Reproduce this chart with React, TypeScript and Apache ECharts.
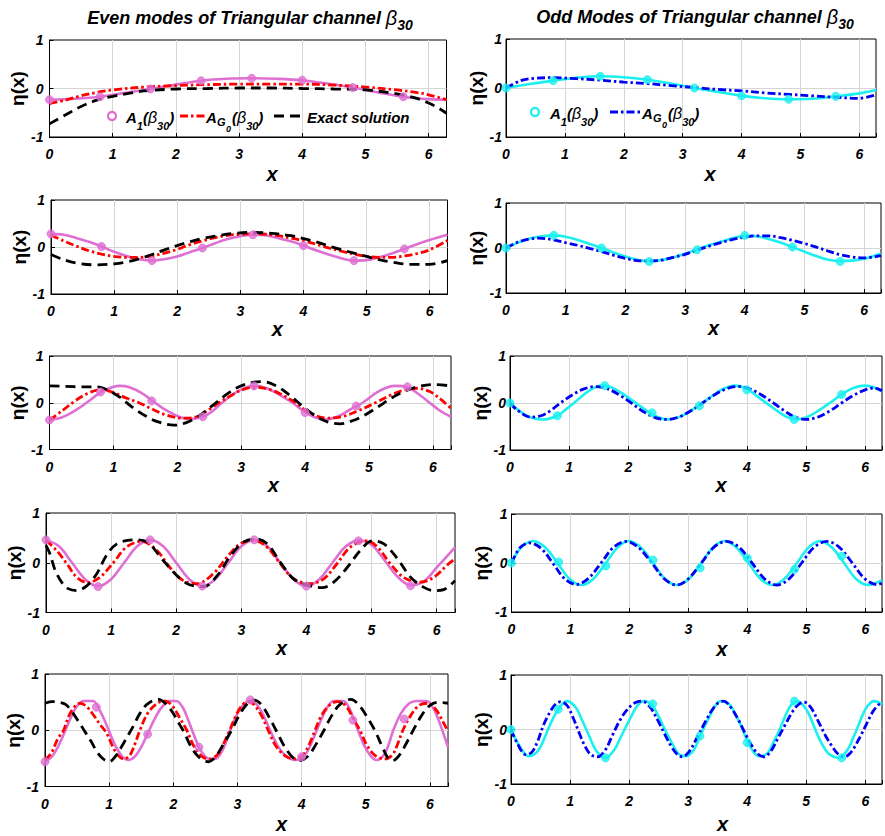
import React, { useEffect, useRef } from "react";
import * as echarts from "echarts";

// ---------- Row 1 ----------
const e1A1 = [[0,-0.23],[0.4,-0.21],[0.8,-0.17],[1.2,-0.09],[1.6,-0.01],[2.0,0.08],[2.4,0.16],[2.8,0.2],[3.2,0.21],[3.6,0.2],[4.0,0.17],[4.4,0.1],[4.8,0.02],[5.2,-0.08],[5.6,-0.17],[6.0,-0.22],[6.283,-0.23]];
const e1AG0 = [[0,-0.31],[0.25,-0.24],[0.5,-0.15],[0.75,-0.08],[1.0,-0.03],[1.5,0.03],[2.0,0.06],[2.5,0.08],[3.0,0.09],[3.5,0.09],[4.0,0.09],[4.5,0.07],[5.0,0.03],[5.5,-0.03],[5.8,-0.08],[6.0,-0.13],[6.283,-0.23]];
const e1Ex = [[0,-0.73],[0.3,-0.51],[0.5,-0.37],[0.75,-0.24],[1.0,-0.16],[1.25,-0.1],[1.5,-0.05],[2.0,-0.01],[2.5,0],[3.0,0.01],[3.5,0.01],[4.0,0],[4.5,-0.01],[5.0,-0.03],[5.5,-0.11],[5.8,-0.2],[6.0,-0.3],[6.15,-0.4],[6.283,-0.51]];
const e1Mk = [[0,-0.23],[0.8,-0.17],[1.6,-0.01],[2.4,0.16],[3.2,0.21],[4.0,0.17],[4.8,0.02],[5.6,-0.17]];
const o1A1 = [[0,0],[0.4,0.08],[0.8,0.15],[1.2,0.21],[1.6,0.24],[2.0,0.22],[2.4,0.17],[2.8,0.09],[3.2,0.0],[3.6,-0.08],[4.0,-0.16],[4.4,-0.21],[4.8,-0.23],[5.2,-0.22],[5.6,-0.17],[6.0,-0.11],[6.283,-0.04]];
const o1AG0 = [[0,0],[0.25,0.15],[0.5,0.2],[0.8,0.21],[1.2,0.19],[1.6,0.16],[2.0,0.12],[2.4,0.09],[2.8,0.05],[3.2,0.01],[3.6,-0.03],[4.0,-0.06],[4.4,-0.1],[4.8,-0.13],[5.2,-0.16],[5.6,-0.19],[6.0,-0.21],[6.283,-0.14]];
const o1Mk = [[0,0],[0.8,0.15],[1.6,0.24],[2.4,0.17],[3.2,0.0],[4.0,-0.16],[4.8,-0.23],[5.6,-0.17]];

// ---------- Row 2 ----------
const e2A1 = [[0,0.28],[0.2,0.26],[0.4,0.19],[0.6,0.11],[0.8,0.01],[1.0,-0.1],[1.2,-0.19],[1.4,-0.26],[1.6,-0.29],[1.8,-0.26],[2.0,-0.2],[2.2,-0.11],[2.4,-0.02],[2.6,0.08],[2.8,0.17],[3.0,0.23],[3.2,0.26],[3.4,0.25],[3.6,0.19],[3.8,0.12],[4.0,0.03],[4.2,-0.07],[4.4,-0.16],[4.6,-0.24],[4.8,-0.29],[5.0,-0.28],[5.2,-0.22],[5.4,-0.14],[5.6,-0.04],[5.8,0.06],[6.0,0.15],[6.283,0.26]];
const e2AG0 = [[0,0.25],[0.2,0.13],[0.4,0.02],[0.6,-0.08],[0.8,-0.15],[1.0,-0.2],[1.2,-0.22],[1.4,-0.22],[1.6,-0.19],[1.8,-0.13],[2.0,-0.05],[2.2,0.05],[2.4,0.13],[2.6,0.2],[2.8,0.25],[3.0,0.27],[3.3,0.28],[3.6,0.24],[3.8,0.19],[4.0,0.13],[4.2,0.06],[4.4,-0.02],[4.6,-0.09],[4.8,-0.15],[5.0,-0.2],[5.2,-0.22],[5.4,-0.22],[5.6,-0.19],[5.8,-0.14],[6.0,-0.06],[6.283,0.14]];
const e2Ex = [[0,-0.16],[0.2,-0.27],[0.4,-0.34],[0.7,-0.38],[1.0,-0.36],[1.2,-0.32],[1.4,-0.25],[1.6,-0.16],[1.8,-0.06],[2.0,0.03],[2.2,0.11],[2.4,0.18],[2.6,0.23],[2.9,0.29],[3.2,0.31],[3.5,0.29],[3.8,0.24],[4.0,0.18],[4.2,0.11],[4.5,-0.02],[4.8,-0.13],[5.0,-0.2],[5.2,-0.27],[5.4,-0.32],[5.7,-0.37],[6.0,-0.37],[6.283,-0.29]];
const e2Mk = [[0,0.28],[0.8,0.01],[1.6,-0.29],[2.4,-0.02],[3.2,0.26],[4.0,0.03],[4.8,-0.29],[5.6,-0.04]];
const o2A1 = [[0,0],[0.2,0.12],[0.4,0.21],[0.6,0.26],[0.8,0.28],[1.0,0.25],[1.2,0.18],[1.4,0.09],[1.6,0],[1.8,-0.1],[2.0,-0.19],[2.2,-0.26],[2.4,-0.29],[2.6,-0.27],[2.8,-0.21],[3.0,-0.13],[3.2,-0.03],[3.4,0.06],[3.6,0.14],[3.8,0.22],[4.0,0.27],[4.2,0.26],[4.4,0.2],[4.6,0.12],[4.8,0.02],[5.0,-0.08],[5.2,-0.18],[5.4,-0.26],[5.6,-0.29],[5.8,-0.28],[6.0,-0.24],[6.283,-0.13]];
const o2AG0 = [[0,0],[0.2,0.13],[0.4,0.2],[0.55,0.22],[0.8,0.18],[1.0,0.12],[1.2,0.06],[1.4,-0.01],[1.6,-0.08],[1.8,-0.16],[2.0,-0.23],[2.2,-0.28],[2.4,-0.29],[2.6,-0.27],[2.8,-0.21],[3.0,-0.14],[3.2,-0.05],[3.4,0.04],[3.6,0.12],[3.8,0.19],[4.0,0.24],[4.2,0.27],[4.4,0.27],[4.6,0.23],[4.8,0.17],[5.0,0.1],[5.2,0.02],[5.4,-0.07],[5.6,-0.15],[5.8,-0.2],[6.0,-0.22],[6.283,-0.17]];
const o2Mk = [[0,0],[0.8,0.28],[1.6,0],[2.4,-0.3],[3.2,-0.04],[4.0,0.28],[4.8,0.02],[5.6,-0.3]];

// ---------- Row 3 ----------
const e3A1 = [[0,-0.37],[0.2,-0.31],[0.4,-0.17],[0.6,0.02],[0.8,0.22],[1.0,0.34],[1.1,0.36],[1.25,0.33],[1.45,0.2],[1.65,0.0],[1.85,-0.18],[2.05,-0.31],[2.2,-0.35],[2.4,-0.3],[2.55,-0.18],[2.7,0.0],[2.85,0.16],[3.0,0.28],[3.2,0.36],[3.4,0.31],[3.6,0.17],[3.8,0.0],[4.0,-0.2],[4.15,-0.31],[4.3,-0.36],[4.5,-0.3],[4.7,-0.15],[4.9,0.0],[5.1,0.2],[5.25,0.31],[5.4,0.36],[5.6,0.33],[5.8,0.16],[5.95,0.0],[6.1,-0.16],[6.283,-0.3]];
const e3AG0 = [[0,-0.37],[0.2,-0.17],[0.4,0.04],[0.6,0.2],[0.8,0.28],[1.0,0.22],[1.2,0.1],[1.4,0],[1.6,-0.13],[1.8,-0.25],[2.1,-0.33],[2.3,-0.3],[2.5,-0.14],[2.65,0],[2.85,0.16],[3.0,0.27],[3.2,0.33],[3.4,0.3],[3.6,0.2],[3.85,0],[4.05,-0.2],[4.35,-0.33],[4.6,-0.29],[4.85,-0.16],[5.1,0],[5.35,0.17],[5.55,0.27],[5.75,0.31],[5.95,0.24],[6.1,0.1],[6.283,-0.12]];
const e3Ex = [[0,0.36],[0.25,0.35],[0.5,0.34],[0.75,0.34],[0.9,0.28],[1.1,0.12],[1.3,-0.1],[1.5,-0.28],[1.7,-0.41],[1.95,-0.48],[2.15,-0.42],[2.35,-0.27],[2.55,-0.06],[2.75,0.16],[2.95,0.33],[3.2,0.44],[3.35,0.45],[3.55,0.36],[3.75,0.17],[3.95,-0.06],[4.15,-0.27],[4.35,-0.41],[4.55,-0.45],[4.75,-0.38],[4.95,-0.25],[5.15,-0.08],[5.35,0.1],[5.55,0.24],[5.75,0.34],[6.0,0.39],[6.283,0.36]];
const e3Mk = [[0,-0.37],[0.8,0.23],[1.6,0.04],[2.4,-0.3],[3.2,0.36],[4.0,-0.21],[4.8,-0.07],[5.6,0.34]];
const o3A1 = [[0,0],[0.15,-0.16],[0.3,-0.28],[0.55,-0.35],[0.8,-0.27],[0.95,-0.13],[1.1,0.02],[1.25,0.18],[1.4,0.31],[1.55,0.37],[1.7,0.34],[1.9,0.2],[2.15,-0.02],[2.35,-0.2],[2.5,-0.3],[2.65,-0.35],[2.85,-0.3],[3.05,-0.17],[3.25,0.0],[3.45,0.18],[3.6,0.3],[3.8,0.37],[4.0,0.3],[4.2,0.12],[4.35,-0.02],[4.55,-0.2],[4.7,-0.31],[4.85,-0.35],[5.05,-0.28],[5.25,-0.13],[5.4,0.0],[5.6,0.18],[5.8,0.32],[6.0,0.37],[6.15,0.33],[6.283,0.25]];
const o3AG0 = [[0,0],[0.12,-0.15],[0.35,-0.3],[0.55,-0.26],[0.7,-0.15],[0.85,0.0],[1.05,0.17],[1.25,0.3],[1.45,0.35],[1.65,0.3],[1.85,0.17],[2.05,0.0],[2.25,-0.18],[2.45,-0.31],[2.65,-0.35],[2.85,-0.3],[3.05,-0.17],[3.25,0.0],[3.45,0.17],[3.65,0.3],[3.85,0.35],[4.05,0.3],[4.25,0.17],[4.45,0.0],[4.65,-0.18],[4.8,-0.29],[5.0,-0.35],[5.2,-0.3],[5.4,-0.17],[5.6,0.0],[5.8,0.16],[6.0,0.28],[6.15,0.32],[6.283,0.26]];
const o3Mk = [[0,0],[0.8,-0.27],[1.6,0.37],[2.4,-0.21],[3.2,-0.06],[4.0,0.28],[4.8,-0.35],[5.6,0.18]];

// ---------- Row 4 ----------
const e4A1 = [[0,0.46],[0.2,0.33],[0.4,0.0],[0.6,-0.33],[0.8,-0.47],[1.0,-0.33],[1.2,0.0],[1.4,0.33],[1.6,0.46],[1.8,0.33],[2.0,0.0],[2.2,-0.33],[2.4,-0.47],[2.6,-0.33],[2.8,0.0],[3.0,0.33],[3.2,0.46],[3.4,0.33],[3.6,0.0],[3.8,-0.33],[4.0,-0.47],[4.2,-0.33],[4.4,0.0],[4.6,0.32],[4.8,0.45],[5.0,0.36],[5.2,0.05],[5.4,-0.28],[5.6,-0.45],[5.8,-0.38],[6.0,-0.1],[6.283,0.31]];
const e4AG0 = [[0,0.45],[0.16,0.25],[0.32,-0.02],[0.47,-0.29],[0.64,-0.4],[0.83,-0.29],[1.04,0.01],[1.24,0.32],[1.47,0.43],[1.7,0.25],[1.9,-0.09],[2.11,-0.36],[2.32,-0.42],[2.57,-0.22],[2.78,0.11],[2.98,0.38],[3.19,0.45],[3.39,0.32],[3.6,-0.02],[3.8,-0.32],[4.06,-0.42],[4.27,-0.32],[4.47,-0.02],[4.68,0.32],[4.93,0.44],[5.09,0.32],[5.29,-0.02],[5.5,-0.3],[5.75,-0.39],[5.96,-0.29],[6.16,-0.05],[6.283,0.08]];
const e4Ex = [[0,0.35],[0.06,0.18],[0.14,-0.15],[0.24,-0.39],[0.34,-0.52],[0.47,-0.56],[0.63,-0.46],[0.78,-0.22],[0.93,0.15],[1.09,0.38],[1.34,0.46],[1.55,0.42],[1.76,0.11],[1.96,-0.19],[2.17,-0.42],[2.42,-0.48],[2.63,-0.26],[2.84,0.15],[3.04,0.42],[3.22,0.48],[3.4,0.38],[3.6,0.01],[3.8,-0.32],[4.01,-0.45],[4.24,-0.5],[4.42,-0.39],[4.63,-0.09],[4.83,0.25],[5.01,0.44],[5.19,0.38],[5.4,0.08],[5.6,-0.29],[5.8,-0.49],[5.96,-0.56],[6.11,-0.54],[6.283,-0.36]];
const e4Mk = [[0,0.46],[0.8,-0.48],[1.6,0.46],[2.4,-0.47],[3.2,0.46],[4.0,-0.47],[4.8,0.44],[5.6,-0.46]];
const o4A1 = [[0,0],[0.1,0.22],[0.2,0.36],[0.37,0.45],[0.57,0.32],[0.78,0],[0.98,-0.32],[1.19,-0.45],[1.39,-0.32],[1.6,0],[1.8,0.32],[1.99,0.45],[2.19,0.32],[2.4,0],[2.6,-0.32],[2.81,-0.45],[3.01,-0.32],[3.22,0],[3.42,0.32],[3.61,0.45],[3.81,0.32],[4.02,0],[4.22,-0.32],[4.43,-0.45],[4.63,-0.32],[4.84,0],[5.04,0.32],[5.23,0.45],[5.43,0.32],[5.64,0],[5.84,-0.32],[6.05,-0.45],[6.283,-0.35]];
const o4AG0 = [[0,0],[0.1,0.24],[0.18,0.35],[0.3,0.41],[0.5,0.3],[0.7,0],[0.9,-0.32],[1.1,-0.44],[1.3,-0.32],[1.52,0],[1.73,0.32],[1.95,0.44],[2.15,0.32],[2.38,0],[2.59,-0.32],[2.8,-0.45],[3.0,-0.32],[3.22,0],[3.43,0.32],[3.65,0.44],[3.86,0.32],[4.08,0],[4.29,-0.32],[4.5,-0.45],[4.71,-0.32],[4.92,0],[5.13,0.32],[5.35,0.44],[5.56,0.32],[5.78,0],[5.99,-0.32],[6.2,-0.44],[6.283,-0.41]];
const o4Mk = [[0,0],[0.8,0.02],[1.6,-0.06],[2.4,0.06],[3.2,-0.1],[4.0,0.1],[4.8,-0.13],[5.6,0.14]];

// ---------- Row 5 ----------
const e5A1 = [[0,-0.56],[0.1,-0.48],[0.2,-0.3],[0.3,-0.05],[0.4,0.22],[0.5,0.43],[0.6,0.52],[0.75,0.52],[0.85,0.36],[0.92,0.2],[1.0,-0.02],[1.1,-0.28],[1.2,-0.46],[1.3,-0.53],[1.4,-0.47],[1.5,-0.3],[1.6,-0.06],[1.7,0.18],[1.8,0.38],[1.9,0.5],[1.95,0.52],[2.05,0.52],[2.15,0.4],[2.22,0.22],[2.3,-0.02],[2.4,-0.3],[2.5,-0.47],[2.6,-0.52],[2.68,-0.5],[2.78,-0.33],[2.88,-0.02],[2.98,0.25],[3.08,0.44],[3.19,0.53],[3.3,0.46],[3.4,0.28],[3.51,0.0],[3.62,-0.26],[3.75,-0.45],[3.9,-0.53],[4.0,-0.5],[4.1,-0.36],[4.23,-0.02],[4.33,0.25],[4.42,0.44],[4.5,0.52],[4.65,0.52],[4.75,0.38],[4.88,0.0],[4.98,-0.28],[5.08,-0.46],[5.17,-0.53],[5.27,-0.46],[5.35,-0.28],[5.43,0.0],[5.55,0.3],[5.68,0.48],[5.8,0.52],[5.95,0.52],[6.05,0.4],[6.15,0.14],[6.283,-0.3]];
const e5AG0 = [[0,-0.53],[0.1,-0.4],[0.2,-0.15],[0.29,0.0],[0.37,0.25],[0.46,0.42],[0.55,0.48],[0.65,0.42],[0.75,0.28],[0.86,0.1],[0.96,-0.05],[1.06,-0.3],[1.15,-0.46],[1.23,-0.51],[1.32,-0.45],[1.4,-0.25],[1.48,0.0],[1.6,0.3],[1.75,0.48],[1.87,0.52],[1.98,0.44],[2.1,0.22],[2.21,0.0],[2.32,-0.28],[2.45,-0.47],[2.57,-0.51],[2.7,-0.42],[2.8,-0.2],[2.88,0.0],[2.98,0.27],[3.08,0.45],[3.17,0.51],[3.27,0.44],[3.38,0.25],[3.48,0.0],[3.6,-0.28],[3.75,-0.46],[3.9,-0.51],[4.02,-0.44],[4.12,-0.25],[4.21,0.0],[4.32,0.28],[4.45,0.46],[4.57,0.51],[4.7,0.42],[4.8,0.22],[4.91,0.0],[5.02,-0.27],[5.15,-0.45],[5.3,-0.51],[5.42,-0.43],[5.5,-0.24],[5.58,0.0],[5.7,0.26],[5.83,0.44],[5.97,0.48],[6.1,0.36],[6.2,0.16],[6.283,-0.02]];
const e5Ex = [[0,0.48],[0.1,0.51],[0.2,0.5],[0.32,0.46],[0.42,0.33],[0.52,0.16],[0.62,-0.02],[0.72,-0.2],[0.82,-0.4],[0.92,-0.52],[1.0,-0.56],[1.1,-0.46],[1.2,-0.28],[1.3,-0.08],[1.38,0.08],[1.48,0.3],[1.6,0.47],[1.77,0.55],[1.9,0.45],[2.0,0.3],[2.1,0.1],[2.17,-0.04],[2.28,-0.3],[2.4,-0.48],[2.55,-0.56],[2.67,-0.45],[2.78,-0.25],[2.92,0.02],[3.02,0.25],[3.13,0.44],[3.25,0.54],[3.37,0.46],[3.5,0.22],[3.62,-0.04],[3.74,-0.3],[3.86,-0.48],[3.97,-0.54],[4.1,-0.46],[4.22,-0.26],[4.35,0.0],[4.47,0.26],[4.6,0.46],[4.77,0.55],[4.9,0.44],[5.02,0.24],[5.15,-0.02],[5.26,-0.3],[5.35,-0.5],[5.42,-0.54],[5.52,-0.45],[5.63,-0.24],[5.75,0.02],[5.87,0.26],[5.98,0.42],[6.1,0.49],[6.2,0.49],[6.283,0.48]];
const e5Mk = [[0,-0.56],[0.8,0.41],[1.6,-0.07],[2.4,-0.3],[3.2,0.54],[4.0,-0.47],[4.8,0.18],[5.6,0.2]];
const o5A1 = [[0,0],[0.15,-0.31],[0.3,-0.49],[0.45,-0.4],[0.55,-0.2],[0.65,0.06],[0.8,0.37],[0.95,0.52],[1.1,0.4],[1.2,0.18],[1.3,-0.06],[1.45,-0.4],[1.6,-0.52],[1.75,-0.37],[1.85,-0.16],[1.95,0.06],[2.05,0.27],[2.15,0.45],[2.25,0.52],[2.38,0.46],[2.5,0.24],[2.62,-0.03],[2.75,-0.3],[2.85,-0.46],[2.95,-0.49],[3.1,-0.37],[3.2,-0.12],[3.35,0.21],[3.45,0.42],[3.55,0.52],[3.7,0.46],[3.8,0.28],[3.9,0.06],[4.0,-0.2],[4.1,-0.4],[4.2,-0.49],[4.35,-0.43],[4.45,-0.22],[4.55,0.0],[4.65,0.26],[4.75,0.46],[4.85,0.52],[5.0,0.37],[5.1,0.14],[5.2,-0.12],[5.3,-0.33],[5.4,-0.46],[5.55,-0.52],[5.7,-0.37],[5.8,-0.14],[5.9,0.12],[6.0,0.37],[6.1,0.5],[6.15,0.52],[6.283,0.46]];
const o5AG0 = [[0,0],[0.1,-0.24],[0.25,-0.46],[0.35,-0.42],[0.45,-0.22],[0.55,0.08],[0.65,0.3],[0.75,0.46],[0.85,0.51],[0.95,0.44],[1.05,0.22],[1.15,-0.05],[1.25,-0.3],[1.35,-0.46],[1.47,-0.5],[1.6,-0.37],[1.72,-0.1],[1.85,0.18],[1.98,0.38],[2.1,0.49],[2.22,0.52],[2.35,0.42],[2.48,0.18],[2.6,-0.08],[2.72,-0.32],[2.82,-0.46],[2.9,-0.5],[3.02,-0.4],[3.15,-0.15],[3.28,0.12],[3.4,0.35],[3.5,0.48],[3.6,0.52],[3.72,0.41],[3.85,0.18],[3.97,-0.08],[4.08,-0.3],[4.18,-0.45],[4.28,-0.5],[4.4,-0.4],[4.52,-0.16],[4.65,0.1],[4.77,0.33],[4.88,0.47],[4.97,0.5],[5.08,0.4],[5.2,0.16],[5.32,-0.1],[5.45,-0.33],[5.55,-0.46],[5.65,-0.5],[5.77,-0.4],[5.9,-0.16],[6.02,0.1],[6.13,0.33],[6.22,0.45],[6.283,0.49]];
const o5Mk = [[0,0],[0.8,0.37],[1.6,-0.52],[2.4,0.47],[3.2,-0.12],[4.0,-0.24],[4.8,0.52],[5.6,-0.52]];

const xTicks = [0, 1, 2, 3, 4, 5, 6];
const yTicks = [-1, 0, 1];

const evenRows = [
  { a1: e1A1, ag0: e1AG0, ex: e1Ex, mk: e1Mk },
  { a1: e2A1, ag0: e2AG0, ex: e2Ex, mk: e2Mk },
  { a1: e3A1, ag0: e3AG0, ex: e3Ex, mk: e3Mk },
  { a1: e4A1, ag0: e4AG0, ex: e4Ex, mk: e4Mk },
  { a1: e5A1, ag0: e5AG0, ex: e5Ex, mk: e5Mk },
];
const oddRows = [
  { a1: o1A1, ag0: o1AG0, mk: o1Mk },
  { a1: o2A1, ag0: o2AG0, mk: o2Mk },
  { a1: o3A1, ag0: o3AG0, mk: o3Mk },
  { a1: o4A1, ag0: o4AG0, mk: o4Mk },
  { a1: o5A1, ag0: o5AG0, mk: o5Mk },
];

// layout (pixels)
const leftBoxes = [
  { left: 49.5, top: 40, width: 397, height: 97, xGap: 27, xPad: 48, yGap: 17 },
  { left: 51, top: 200, width: 396.5, height: 94, xGap: 22, xPad: 56, yGap: 18 },
  { left: 49.5, top: 356, width: 401.5, height: 93.5, xGap: 25, xPad: 46, yGap: 18 },
  { left: 46, top: 513, width: 409, height: 99.5, xGap: 25, xPad: 62, yGap: 16 },
  { left: 45, top: 674, width: 403, height: 112.5, xGap: 27, xPad: 70, yGap: 16 },
];
const rightBoxes = [
  { left: 506, top: 39, width: 370, height: 98, xGap: 27, xPad: 38, yGap: 18 },
  { left: 506, top: 203, width: 375, height: 90, xGap: 23, xPad: 40, yGap: 18 },
  { left: 510, top: 356, width: 372, height: 94, xGap: 25, xPad: 50, yGap: 20 },
  { left: 511.5, top: 514, width: 372.5, height: 98, xGap: 27, xPad: 50, yGap: 18 },
  { left: 511, top: 675, width: 373, height: 109, xGap: 30, xPad: 52, yGap: 18 },
];

const FONT = '"Liberation Sans", Arial, Helvetica, sans-serif';
const PINK = "#df6fd2";
const RED = "#ff0000";
const BLACK = "#000000";
const CYAN = "#1af0f0";
const BLUE = "#0000f5";

const richLegend: any = {
  b: { fontFamily: FONT, fontSize: 15, fontWeight: "bold", fontStyle: "italic", fill: "#000", lineHeight: 28 },
  g: { fontFamily: FONT, fontSize: 16, fontStyle: "italic", fill: "#000", lineHeight: 28 },
  s: { fontFamily: FONT, fontSize: 11, fontWeight: "bold", fontStyle: "italic", fill: "#000", lineHeight: 16, verticalAlign: "bottom" },
};
const richTitle: any = {
  t: { fontFamily: FONT, fontSize: 18, fontWeight: "bold", fontStyle: "italic", fill: "#000", lineHeight: 28 },
  g: { fontFamily: FONT, fontSize: 20, fontStyle: "italic", fill: "#000", lineHeight: 28 },
  s: { fontFamily: FONT, fontSize: 14, fontWeight: "bold", fontStyle: "italic", fill: "#000", lineHeight: 14, verticalAlign: "bottom" },
};
const plainStyle = (size: number): any => ({
  fontFamily: FONT, fontSize: size, fontWeight: "bold", fontStyle: "italic", fill: "#000", align: "left", verticalAlign: "middle",
});

function legendAG0(x: number, y: number): any[] {
  return [
    { type: "text", x, y: y + 1, z: 100, style: { ...plainStyle(15), text: "A" } },
    { type: "text", x: x + 11, y: y + 6, z: 100, style: { ...plainStyle(11), text: "G" } },
    { type: "text", x: x + 20, y: y + 13, z: 100, style: { ...plainStyle(9), text: "0" } },
    { type: "text", x: x + 26, y: y + 1, z: 100, style: { text: "{b|(}{g|β}{s|30}{b|)}", rich: richLegend, align: "left", verticalAlign: "middle" } },
  ];
}

export default function App() {
  const ref = useRef<HTMLDivElement>(null);
  useEffect(() => {
    const chart = echarts.init(ref.current!, null, { renderer: "svg" });
    const grids: any[] = [];
    const xAxes: any[] = [];
    const yAxes: any[] = [];
    const series: any[] = [];
    const boxes: any[] = [];
    for (let r = 0; r < 5; r++) {
      boxes.push({ b: leftBoxes[r], side: "L", row: evenRows[r], isEven: true });
      boxes.push({ b: rightBoxes[r], side: "R", row: oddRows[r], isEven: false });
    }
    boxes.forEach((item, i) => {
      const b = item.b;
      grids.push({
        left: b.left, top: b.top, width: b.width, height: b.height,
        show: true, borderColor: "#000", borderWidth: 1, backgroundColor: "transparent",
      });
      xAxes.push({
        gridIndex: i, type: "value", min: 0, max: 2 * Math.PI, interval: 1,
        axisLine: { show: true, onZero: false, lineStyle: { color: "#000", width: 1 } },
        axisTick: { show: true, inside: true, length: 4, lineStyle: { color: "#000" } },
        axisLabel: {
          margin: 10, fontSize: 14, fontWeight: "bold", fontStyle: "italic", fontFamily: FONT, color: "#000",
          formatter: (v: number) => (xTicks.indexOf(Math.round(v * 1000) / 1000) >= 0 ? String(v) : ""),
        },
        splitLine: { show: true, showMinLine: false, showMaxLine: false, lineStyle: { color: "#d6d6d6", width: 1 } },
        name: "x", nameLocation: "middle", nameGap: b.xGap,
        nameTextStyle: { fontSize: 20, fontWeight: "bold", fontStyle: "italic", fontFamily: FONT, color: "#000", padding: [0, 0, 0, b.xPad] },
      });
      yAxes.push({
        gridIndex: i, type: "value", min: yTicks[0], max: yTicks[yTicks.length - 1], interval: 1,
        axisLine: { show: true, onZero: false, lineStyle: { color: "#000", width: 1 } },
        axisTick: { show: true, inside: true, length: 4, lineStyle: { color: "#000" } },
        axisLabel: {
          margin: item.side === "L" ? 6 : 4, fontSize: 14, fontWeight: "bold", fontStyle: "italic", fontFamily: FONT, color: "#000",
        },
        splitLine: { show: true, showMinLine: false, showMaxLine: false, lineStyle: { color: "#d6d6d6", width: 1 } },
        name: "η(x)", nameLocation: "middle", nameRotate: 90, nameGap: b.yGap,
        nameTextStyle: { fontSize: 19, fontWeight: "bold", fontFamily: FONT, color: "#000" },
      });
      const row = item.row;
      const mainColor = item.isEven ? PINK : CYAN;
      series.push({
        type: "line", name: "A1 line", xAxisIndex: i, yAxisIndex: i, data: row.a1,
        showSymbol: false, symbol: "none", smooth: 0.35, clip: true,
        lineStyle: { color: mainColor, width: 2.6 }, z: 2,
      });
      series.push({
        type: "scatter", name: "A1(β30)", xAxisIndex: i, yAxisIndex: i, data: row.mk,
        symbol: "circle", symbolSize: 8,
        itemStyle: { color: mainColor, borderColor: mainColor, borderWidth: 1 }, z: 5,
      });
      series.push({
        type: "line", name: "AG0(β30)", xAxisIndex: i, yAxisIndex: i, data: row.ag0,
        showSymbol: false, symbol: "none", smooth: 0.35, clip: true,
        lineStyle: { color: item.isEven ? RED : BLUE, width: 2.8, type: [8, 3, 2.5, 3] }, z: 3,
      });
      if (item.isEven) {
        series.push({
          type: "line", name: "Exact solution", xAxisIndex: i, yAxisIndex: i, data: row.ex,
          showSymbol: false, symbol: "none", smooth: 0.35, clip: true,
          lineStyle: { color: BLACK, width: 2.8, type: [10, 6] }, z: 4,
        });
      }
    });

    const graphic: any[] = [
      { type: "text", x: 250, y: 18, z: 100, style: { text: "{t|Even modes of Triangular channel }{g|β}{s|30}", rich: richTitle, align: "center", verticalAlign: "middle" } },
      { type: "text", x: 695, y: 17, z: 100, style: { text: "{t|Odd Modes of Triangular channel }{g|β}{s|30}", rich: richTitle, align: "center", verticalAlign: "middle" } },
      // left legend
      { type: "circle", z: 100, shape: { cx: 112, cy: 116, r: 4 }, style: { fill: "#fff", stroke: PINK, lineWidth: 2.2 } },
      { type: "text", x: 126, y: 117, z: 100, style: { text: "{b|A}{s|1}{b|(}{g|β}{s|30}{b|)}", rich: richLegend, align: "left", verticalAlign: "middle" } },
      { type: "line", z: 100, shape: { x1: 180, y1: 116, x2: 205, y2: 116 }, style: { stroke: RED, lineWidth: 2.8, lineDash: [8, 3, 2.5, 3] } },
      ...legendAG0(206, 116),
      { type: "line", z: 100, shape: { x1: 274, y1: 116, x2: 302, y2: 116 }, style: { stroke: BLACK, lineWidth: 2.8, lineDash: [10, 6] } },
      { type: "text", x: 307, y: 117, z: 100, style: { text: "{b|Exact solution}", rich: richLegend, align: "left", verticalAlign: "middle" } },
      // right legend
      { type: "circle", z: 100, shape: { cx: 535, cy: 112, r: 4 }, style: { fill: "#fff", stroke: CYAN, lineWidth: 2.2 } },
      { type: "text", x: 550, y: 113, z: 100, style: { text: "{b|A}{s|1}{b|(}{g|β}{s|30}{b|)}", rich: richLegend, align: "left", verticalAlign: "middle" } },
      { type: "line", z: 100, shape: { x1: 610, y1: 112, x2: 640, y2: 112 }, style: { stroke: BLUE, lineWidth: 2.8, lineDash: [8, 3, 2.5, 3] } },
      ...legendAG0(642, 112),
    ];

    chart.setOption({
      animation: false,
      backgroundColor: "#ffffff",
      grid: grids,
      xAxis: xAxes,
      yAxis: yAxes,
      series,
      graphic,
    });
    return () => chart.dispose();
  }, []);
  return <div ref={ref} style={{ position: "absolute", left: 0, top: 0, width: 885, height: 836 }} />;
}
